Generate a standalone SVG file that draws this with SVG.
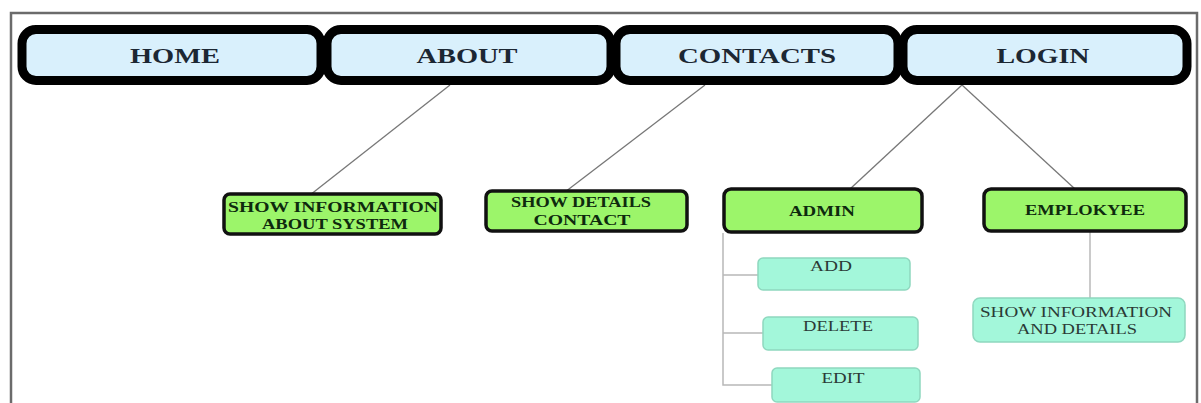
<svg xmlns="http://www.w3.org/2000/svg" width="1201" height="403" viewBox="0 0 1201 403">
<style>
.nav{fill:#d9f0fc;stroke:#000;stroke-width:9}
.navt{font-family:"Liberation Serif",serif;font-weight:bold;font-size:21px;fill:#1c2733;text-anchor:middle}
.grn{fill:#9cf56a;stroke:#111;stroke-width:3.5}
.grnt{font-family:"Liberation Serif",serif;font-weight:bold;font-size:14px;fill:#0e2a0e;text-anchor:middle}
.cy{fill:#a3f7da;stroke:#8fd8bf;stroke-width:1.5}
.cyt{font-family:"Liberation Serif",serif;font-size:14px;fill:#2b3a36;text-anchor:middle}
.ln{stroke:#777;stroke-width:1.3;fill:none}
.lnl{stroke:#b8b8b8;stroke-width:1.5;fill:none}
</style>
<rect x="0" y="0" width="1201" height="403" fill="#fff"/>
<rect x="11" y="13" width="1186" height="400" fill="none" stroke="#6b6b6b" stroke-width="2.5"/>
<g id="connectors">
<line class="ln" x1="450" y1="85" x2="310" y2="195"/>
<line class="ln" x1="705" y1="85" x2="565" y2="192"/>
<line class="ln" x1="962" y1="85" x2="850" y2="189"/>
<line class="ln" x1="962" y1="85" x2="1075" y2="189"/>
<path class="lnl" d="M723 233 V385 H772 M723 275 H758 M723 333 H763"/>
<line class="lnl" x1="1090" y1="232" x2="1090" y2="298"/>
</g>
<g id="home"><rect class="nav" x="22" y="29.5" width="299" height="51" rx="14"/><text class="navt" x="175" y="63" textLength="90" lengthAdjust="spacingAndGlyphs">HOME</text></g>
<g id="about"><rect class="nav" x="327" y="29.5" width="284" height="51" rx="14"/><text class="navt" x="467" y="63" textLength="101" lengthAdjust="spacingAndGlyphs">ABOUT</text></g>
<g id="contacts"><rect class="nav" x="616" y="29.5" width="282" height="51" rx="14"/><text class="navt" x="757" y="63" textLength="158" lengthAdjust="spacingAndGlyphs">CONTACTS</text></g>
<g id="login"><rect class="nav" x="903" y="29.5" width="284" height="51" rx="14"/><text class="navt" x="1043" y="63" textLength="93" lengthAdjust="spacingAndGlyphs">LOGIN</text></g>
<g id="show-info-about"><rect class="grn" x="224" y="194" width="217" height="40" rx="6"/><text class="grnt" x="333" y="212" textLength="210" lengthAdjust="spacingAndGlyphs">SHOW INFORMATION</text><text class="grnt" x="335" y="229" textLength="146" lengthAdjust="spacingAndGlyphs">ABOUT SYSTEM</text></g>
<g id="show-details-contact"><rect class="grn" x="486" y="191" width="201" height="40" rx="6"/><text class="grnt" x="581" y="207" textLength="140" lengthAdjust="spacingAndGlyphs">SHOW DETAILS</text><text class="grnt" x="582" y="225" textLength="97" lengthAdjust="spacingAndGlyphs">CONTACT</text></g>
<g id="admin"><rect class="grn" x="724" y="189" width="198" height="43" rx="7"/><text class="grnt" x="822" y="216" textLength="66" lengthAdjust="spacingAndGlyphs">ADMIN</text></g>
<g id="employee"><rect class="grn" x="984" y="189" width="202" height="42" rx="7"/><text class="grnt" x="1085" y="215" textLength="120" lengthAdjust="spacingAndGlyphs">EMPLOKYEE</text></g>
<g id="add"><rect class="cy" x="758" y="258" width="152" height="32" rx="5"/><text class="cyt" x="831" y="271" textLength="42" lengthAdjust="spacingAndGlyphs">ADD</text></g>
<g id="delete"><rect class="cy" x="763" y="317" width="155" height="33" rx="5"/><text class="cyt" x="838" y="331" textLength="70" lengthAdjust="spacingAndGlyphs">DELETE</text></g>
<g id="edit"><rect class="cy" x="772" y="368" width="148" height="34" rx="5"/><text class="cyt" x="843" y="383" textLength="43" lengthAdjust="spacingAndGlyphs">EDIT</text></g>
<g id="show-info-details"><rect class="cy" x="973" y="298" width="212" height="44" rx="7"/><text class="cyt" x="1076" y="317" textLength="192" lengthAdjust="spacingAndGlyphs">SHOW INFORMATION</text><text class="cyt" x="1077" y="334" textLength="120" lengthAdjust="spacingAndGlyphs">AND DETAILS</text></g>
</svg>
